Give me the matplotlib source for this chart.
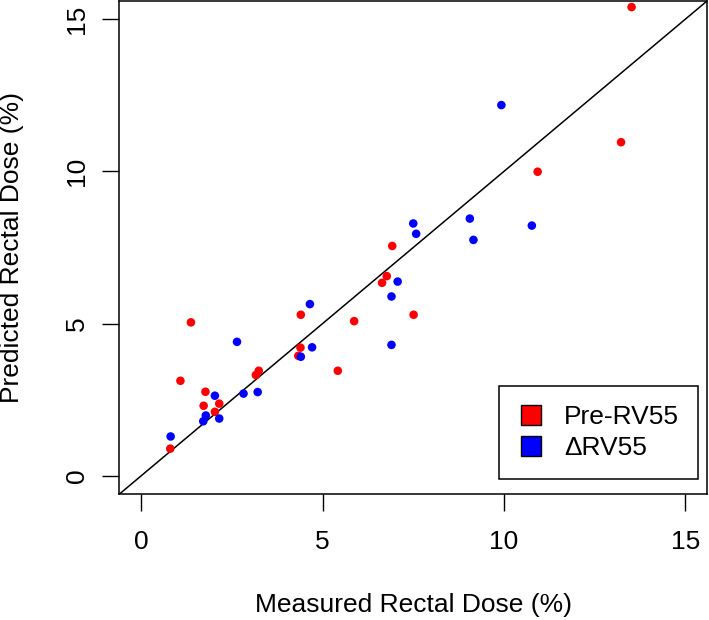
import matplotlib
matplotlib.use('Agg')
import matplotlib.pyplot as plt
from matplotlib.lines import Line2D

plt.rcParams['font.family'] = ['Liberation Sans', 'DejaVu Sans']

# measured vs predicted rectal dose (%)
pre_measured = [13.52, 13.23, 10.93, 6.92, 6.77, 6.64, 7.51, 1.37, 1.08, 1.77, 1.72, 2.15,
                2.03, 0.80, 3.16, 3.24, 4.40, 4.39, 4.33, 5.87, 5.42]
pre_predicted = [15.40, 10.96, 9.99, 7.55, 6.56, 6.34, 5.29, 5.04, 3.12, 2.76, 2.30, 2.37,
                 2.10, 0.89, 3.31, 3.45, 5.29, 4.21, 3.94, 5.08, 3.45]
delta_measured = [9.93, 7.50, 7.58, 9.06, 9.16, 10.77, 7.07, 6.90, 6.90, 2.64, 2.03, 1.78,
                  1.71, 2.15, 0.81, 2.82, 3.21, 4.65, 4.40, 4.71]
delta_predicted = [12.18, 8.29, 7.95, 8.45, 7.75, 8.22, 6.38, 5.89, 4.30, 4.40, 2.63, 1.98,
                   1.79, 1.88, 1.29, 2.70, 2.75, 5.64, 3.91, 4.22]
ticks = [0, 5, 10, 15]

fig = plt.figure(figsize=(7.09, 6.2), dpi=100)
ax = fig.add_axes([119.5/709, 126/620, 587.5/709, 493/620])

ax.axline((0, 0), slope=1, color='black', lw=1.1, zorder=1)
ax.scatter(pre_measured, pre_predicted, s=38, color='#ff0000', edgecolors='none', zorder=2)
ax.scatter(delta_measured, delta_predicted, s=38, color='#0000ff', edgecolors='none', zorder=3)

ax.set_xlim(-0.6, 15.6)
ax.set_ylim(-0.6, 15.6)
ax.set_xticks(ticks)
ax.set_yticks(ticks)
ax.tick_params(length=12.2, width=1.0, labelsize=19)
ax.tick_params(axis='x', pad=14)
ax.tick_params(axis='y', pad=10)
for lab in ax.get_yticklabels():
    lab.set_rotation(90)
    lab.set_va('center')
for sp in ax.spines.values():
    sp.set_linewidth(1.1)

ax.set_xlabel('Measured Rectal Dose (%)', fontsize=19, va='center')
ax.set_ylabel('Predicted Rectal Dose (%)', fontsize=19, va='center')
ax.xaxis.set_label_coords(0.5, -111/493)
ax.yaxis.set_label_coords(-107/587.5, 0.5)

handles = [Line2D([], [], ls='none', marker='s', markersize=13.9, markerfacecolor='#ff0000',
                  markeredgecolor='black', markeredgewidth=1.0),
           Line2D([], [], ls='none', marker='s', markersize=13.9, markerfacecolor='#0000ff',
                  markeredgecolor='black', markeredgewidth=1.0)]
leg = ax.legend(handles, ['Pre-RV55', '\u0394RV55'], loc='lower right',
                bbox_to_anchor=(0.985, 0.0304), borderaxespad=0, fontsize=19,
                fancybox=False, edgecolor='black', framealpha=1,
                handlelength=1.0, handletextpad=0.75, borderpad=0.72, labelspacing=0.25)
leg.get_frame().set_linewidth(1.1)

fig.savefig('out.png', dpi=100)
